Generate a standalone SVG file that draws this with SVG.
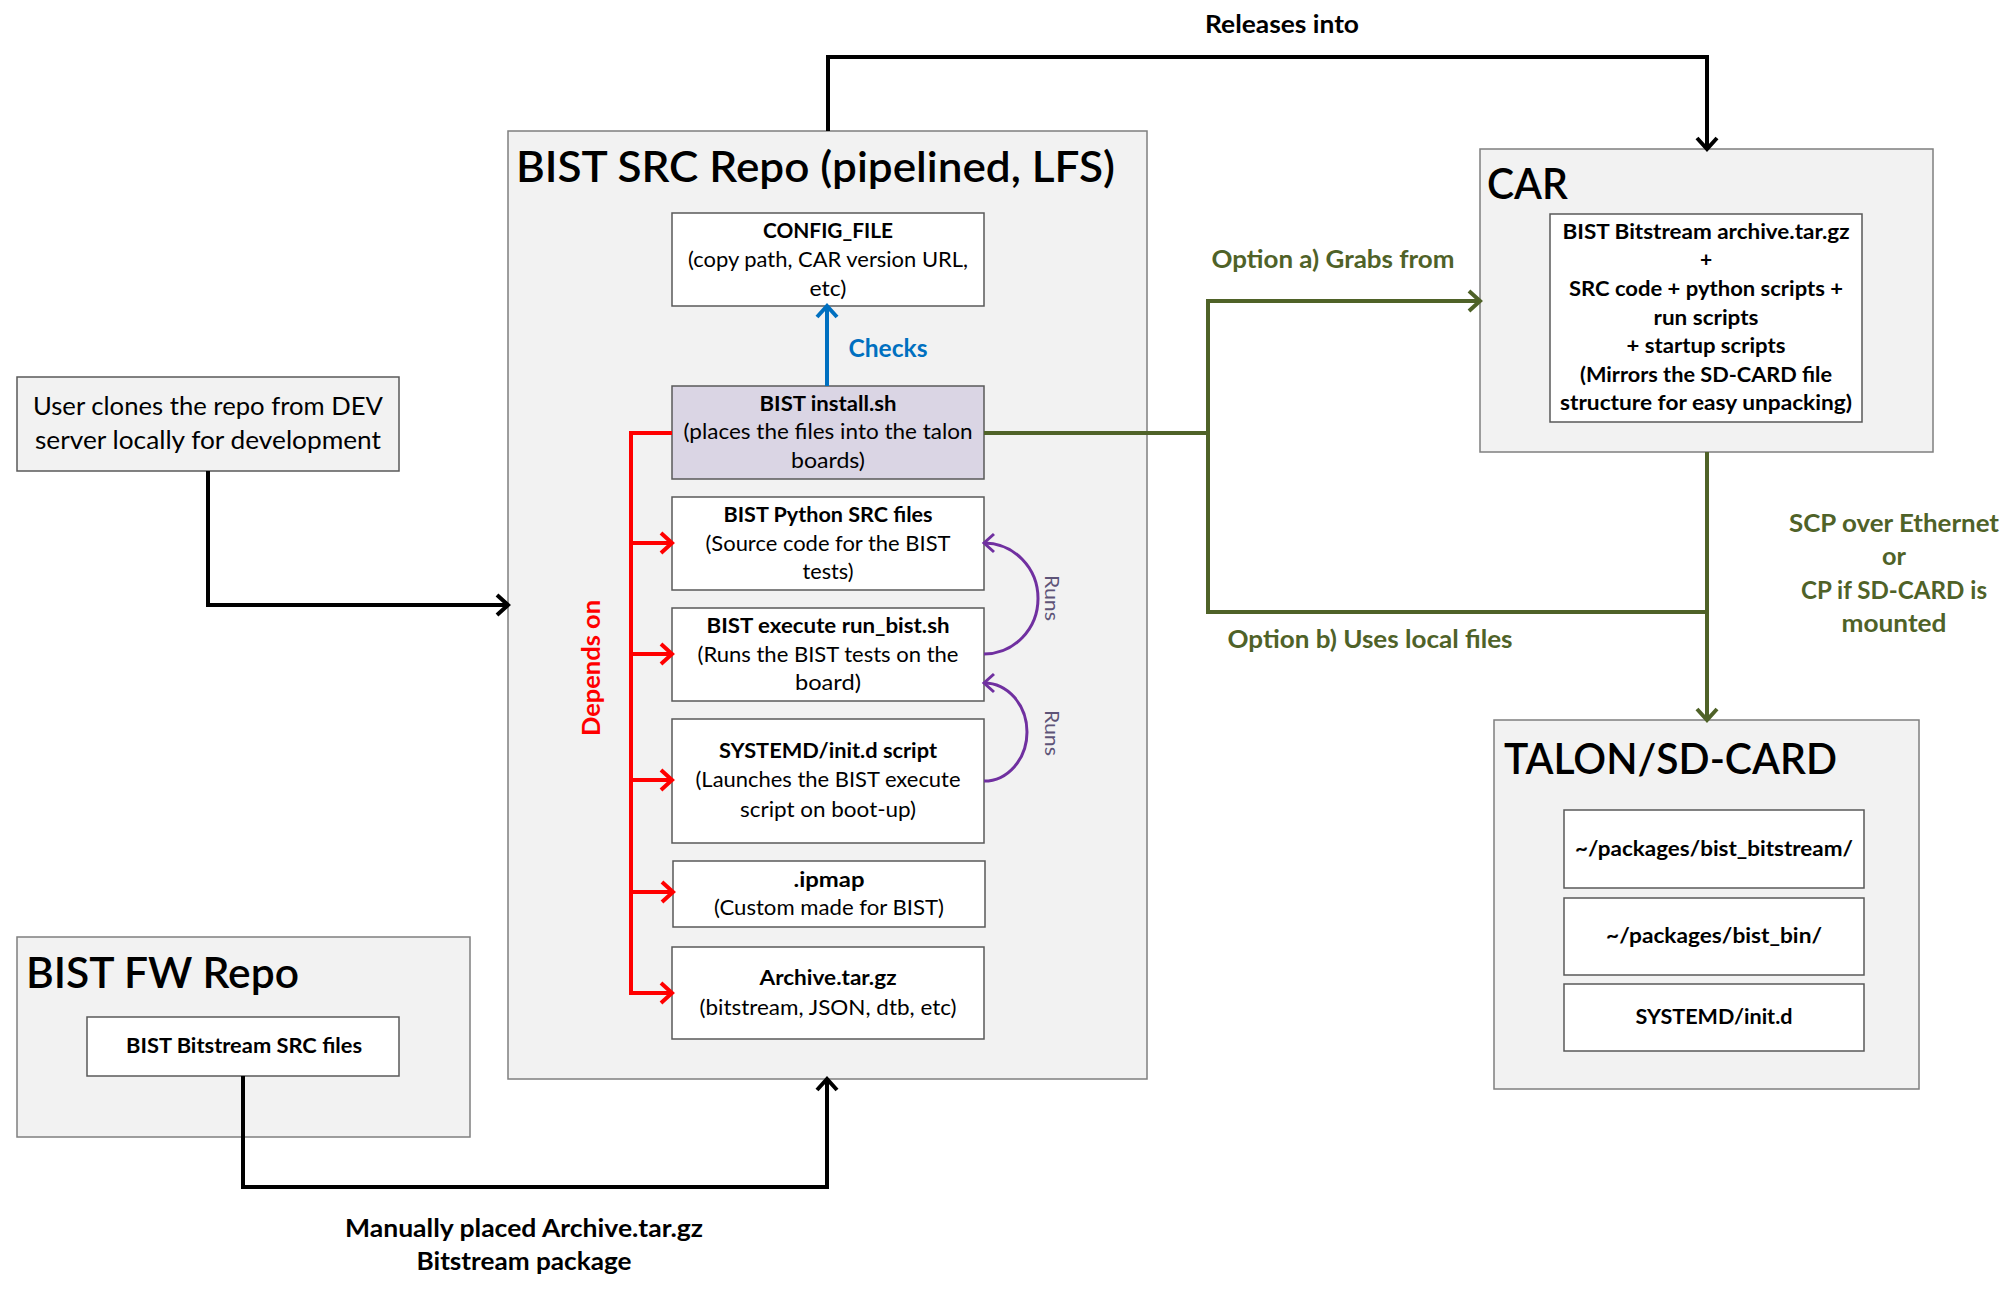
<svg xmlns="http://www.w3.org/2000/svg" width="2014" height="1293" viewBox="0 0 2014 1293">
<style>
text { font-family: Lato, "Liberation Sans", sans-serif; }
.outer { fill:#f2f2f2; stroke:#7f7f7f; stroke-width:1.5 }
.box { fill:#ffffff; stroke:#595959; stroke-width:1.5 }
.inst { fill:#dad5e4; stroke:#595959; stroke-width:1.5 }
.gbox { fill:#f2f2f2; stroke:#595959; stroke-width:1.5 }
.t { font-size:21px; fill:#000; text-anchor:middle }
.b { font-size:21px; font-weight:700; fill:#000; text-anchor:middle }
.u { font-size:25px; fill:#000; text-anchor:middle }
.title { font-size:43px; font-weight:600; fill:#000 }
.lbl { font-size:24px; font-weight:700; fill:#000; text-anchor:middle }
.grn { fill:#4f6228 }
.k { stroke:#000; stroke-width:4; fill:none }
.r { stroke:#ff0000; stroke-width:4; fill:none }
.g { stroke:#4f6228; stroke-width:4; fill:none }
.bl { stroke:#0070c0; stroke-width:4; fill:none }
.p { stroke:#7030a0; stroke-width:3; fill:none }
</style>
<defs>
<marker id="ak" markerUnits="userSpaceOnUse" viewBox="-14 -12 16 24" markerWidth="16" markerHeight="24" refX="0" refY="0" orient="auto" overflow="visible"><path d="M-11,-10 L0,0 L-11,10" fill="none" stroke="#000" stroke-width="4"/></marker>
<marker id="ar" markerUnits="userSpaceOnUse" viewBox="-14 -12 16 24" markerWidth="16" markerHeight="24" refX="0" refY="0" orient="auto" overflow="visible"><path d="M-11,-10 L0,0 L-11,10" fill="none" stroke="#ff0000" stroke-width="4"/></marker>
<marker id="ag" markerUnits="userSpaceOnUse" viewBox="-14 -12 16 24" markerWidth="16" markerHeight="24" refX="0" refY="0" orient="auto" overflow="visible"><path d="M-11,-10 L0,0 L-11,10" fill="none" stroke="#4f6228" stroke-width="4"/></marker>
<marker id="ab" markerUnits="userSpaceOnUse" viewBox="-14 -12 16 24" markerWidth="16" markerHeight="24" refX="0" refY="0" orient="auto" overflow="visible"><path d="M-11,-10 L0,0 L-11,10" fill="none" stroke="#0070c0" stroke-width="4"/></marker>
<marker id="ap" markerUnits="userSpaceOnUse" viewBox="-14 -12 16 24" markerWidth="16" markerHeight="24" refX="0" refY="0" orient="auto" overflow="visible"><path d="M-10,-9 L0,0 L-10,9" fill="none" stroke="#7030a0" stroke-width="3"/></marker>
</defs>
<rect x="0" y="0" width="2014" height="1293" fill="#ffffff"/>

<g id="user-clone">
<rect class="gbox" x="17" y="377" width="382" height="94"/>
<text class="u" x="208" y="415" textLength="350" lengthAdjust="spacingAndGlyphs">User clones the repo from DEV</text>
<text class="u" x="208" y="449" textLength="346" lengthAdjust="spacingAndGlyphs">server locally for development</text>
</g>

<g id="bist-fw-repo">
<rect class="outer" x="17" y="937" width="453" height="200"/>
<text class="title" x="26" y="988" textLength="273" lengthAdjust="spacingAndGlyphs">BIST FW Repo</text>
<g id="bitstream-src">
<rect class="box" x="87" y="1017" width="312" height="59"/>
<text class="b" x="244" y="1053" textLength="236" lengthAdjust="spacingAndGlyphs">BIST Bitstream SRC files</text>
</g>
</g>

<g id="bist-src-repo">
<rect class="outer" x="508" y="131" width="639" height="948"/>
<text class="title" x="516" y="182" textLength="599" lengthAdjust="spacingAndGlyphs">BIST SRC Repo (pipelined, LFS)</text>
</g>

<g id="config-file">
<rect class="box" x="672" y="213" width="312" height="93"/>
<text class="b" x="828" y="238" textLength="130" lengthAdjust="spacingAndGlyphs">CONFIG_FILE</text>
<text class="t" x="828" y="267" textLength="280" lengthAdjust="spacingAndGlyphs">(copy path, CAR version URL,</text>
<text class="t" x="828" y="296" textLength="37" lengthAdjust="spacingAndGlyphs">etc)</text>
</g>

<g id="install-sh">
<rect class="inst" x="672" y="386" width="312" height="93"/>
<text class="b" x="828" y="411" textLength="137" lengthAdjust="spacingAndGlyphs">BIST install.sh</text>
<text class="t" x="828" y="439" textLength="289" lengthAdjust="spacingAndGlyphs">(places the files into the talon</text>
<text class="t" x="828" y="468" textLength="74" lengthAdjust="spacingAndGlyphs">boards)</text>
</g>

<g id="python-src">
<rect class="box" x="672" y="497" width="312" height="93"/>
<text class="b" x="828" y="522" textLength="209" lengthAdjust="spacingAndGlyphs">BIST Python SRC files</text>
<text class="t" x="828" y="551" textLength="245" lengthAdjust="spacingAndGlyphs">(Source code for the BIST</text>
<text class="t" x="828" y="579" textLength="51" lengthAdjust="spacingAndGlyphs">tests)</text>
</g>

<g id="run-bist">
<rect class="box" x="672" y="608" width="312" height="93"/>
<text class="b" x="828" y="633" textLength="243" lengthAdjust="spacingAndGlyphs">BIST execute run_bist.sh</text>
<text class="t" x="828" y="662" textLength="261" lengthAdjust="spacingAndGlyphs">(Runs the BIST tests on the</text>
<text class="t" x="828" y="690" textLength="66" lengthAdjust="spacingAndGlyphs">board)</text>
</g>

<g id="systemd-script">
<rect class="box" x="672" y="719" width="312" height="124"/>
<text class="b" x="828" y="758" textLength="218" lengthAdjust="spacingAndGlyphs">SYSTEMD/init.d script</text>
<text class="t" x="828" y="787" textLength="265" lengthAdjust="spacingAndGlyphs">(Launches the BIST execute</text>
<text class="t" x="828" y="817" textLength="176" lengthAdjust="spacingAndGlyphs">script on boot-up)</text>
</g>

<g id="ipmap">
<rect class="box" x="673" y="861" width="312" height="66"/>
<text class="b" x="829" y="887" textLength="71" lengthAdjust="spacingAndGlyphs">.ipmap</text>
<text class="t" x="829" y="915" textLength="230" lengthAdjust="spacingAndGlyphs">(Custom made for BIST)</text>
</g>

<g id="archive">
<rect class="box" x="672" y="947" width="312" height="92"/>
<text class="b" x="828" y="985" textLength="137" lengthAdjust="spacingAndGlyphs">Archive.tar.gz</text>
<text class="t" x="828" y="1015" textLength="257" lengthAdjust="spacingAndGlyphs">(bitstream, JSON, dtb, etc)</text>
</g>

<g id="car">
<rect class="outer" x="1480" y="149" width="453" height="303"/>
<text class="title" x="1487" y="199" textLength="81" lengthAdjust="spacingAndGlyphs">CAR</text>
<g id="car-contents">
<rect class="box" x="1550" y="214" width="312" height="208"/>
<text class="b" x="1706" y="239" textLength="287" lengthAdjust="spacingAndGlyphs">BIST Bitstream archive.tar.gz</text>
<text class="b" x="1706" y="267">+</text>
<text class="b" x="1706" y="296" textLength="274" lengthAdjust="spacingAndGlyphs">SRC code + python scripts +</text>
<text class="b" x="1706" y="325" textLength="105" lengthAdjust="spacingAndGlyphs">run scripts</text>
<text class="b" x="1706" y="353" textLength="159" lengthAdjust="spacingAndGlyphs">+ startup scripts</text>
<text class="b" x="1706" y="382" textLength="252" lengthAdjust="spacingAndGlyphs">(Mirrors the SD-CARD file</text>
<text class="b" x="1706" y="410" textLength="292" lengthAdjust="spacingAndGlyphs">structure for easy unpacking)</text>
</g>
</g>

<g id="talon-sdcard">
<rect class="outer" x="1494" y="720" width="425" height="369"/>
<text class="title" x="1504" y="774" textLength="333" lengthAdjust="spacingAndGlyphs">TALON/SD-CARD</text>
<g id="pkg-bitstream">
<rect class="box" x="1564" y="810" width="300" height="78"/>
<text class="b" x="1714" y="856" textLength="278" lengthAdjust="spacingAndGlyphs">~/packages/bist_bitstream/</text>
</g>
<g id="pkg-bin">
<rect class="box" x="1564" y="898" width="300" height="77"/>
<text class="b" x="1714" y="943" textLength="216" lengthAdjust="spacingAndGlyphs">~/packages/bist_bin/</text>
</g>
<g id="systemd-dir">
<rect class="box" x="1564" y="984" width="300" height="67"/>
<text class="b" x="1714" y="1024" textLength="157" lengthAdjust="spacingAndGlyphs">SYSTEMD/init.d</text>
</g>
</g>

<g id="connectors">
<path class="k" d="M828,131 V57 H1707 V149" marker-end="url(#ak)"/>
<path class="k" d="M208,471 V605 H508" marker-end="url(#ak)"/>
<path class="k" d="M243,1076 V1187 H827 V1079" marker-end="url(#ak)"/>
<path class="bl" d="M827,386 V306" marker-end="url(#ab)"/>
<path class="r" d="M672,433 H631 V993 H672" marker-end="url(#ar)"/>
<path class="r" d="M631,543 H672" marker-end="url(#ar)"/>
<path class="r" d="M631,654 H672" marker-end="url(#ar)"/>
<path class="r" d="M631,780 H672" marker-end="url(#ar)"/>
<path class="r" d="M631,892 H673" marker-end="url(#ar)"/>
<path class="g" d="M984,433 H1208 V301 H1480" marker-end="url(#ag)"/>
<path class="g" d="M1208,433 V612 H1707"/>
<path class="g" d="M1707,452 V720" marker-end="url(#ag)"/>
<path class="p" d="M984,654 A54,55.5 0 0 0 984,543" marker-end="url(#ap)"/>
<path class="p" d="M984,781 A43,49 0 0 0 984,683" marker-end="url(#ap)"/>
<text class="lbl" x="1282" y="33" textLength="154" lengthAdjust="spacingAndGlyphs">Releases into</text>
<text class="lbl" x="888" y="357" style="fill:#0070c0" textLength="79" lengthAdjust="spacingAndGlyphs">Checks</text>
<text class="lbl grn" x="1333" y="268" textLength="243" lengthAdjust="spacingAndGlyphs">Option a) Grabs from</text>
<text class="lbl grn" x="1370" y="648" textLength="285" lengthAdjust="spacingAndGlyphs">Option b) Uses local files</text>
<text class="lbl grn" x="1894" y="532" textLength="210" lengthAdjust="spacingAndGlyphs">SCP over Ethernet</text>
<text class="lbl grn" x="1894" y="565" textLength="24" lengthAdjust="spacingAndGlyphs">or</text>
<text class="lbl grn" x="1894" y="599" textLength="186" lengthAdjust="spacingAndGlyphs">CP if SD-CARD is</text>
<text class="lbl grn" x="1894" y="632" textLength="105" lengthAdjust="spacingAndGlyphs">mounted</text>
<text class="lbl" x="524" y="1237" textLength="358" lengthAdjust="spacingAndGlyphs">Manually placed Archive.tar.gz</text>
<text class="lbl" x="524" y="1270" textLength="215" lengthAdjust="spacingAndGlyphs">Bitstream package</text>
<text class="lbl" transform="translate(600,668) rotate(-90)" style="fill:#ff0000;font-size:25px" textLength="136" lengthAdjust="spacingAndGlyphs">Depends on</text>
<text transform="translate(1045,598) rotate(90)" style="font-size:20px;fill:#5e5478;text-anchor:middle" textLength="46" lengthAdjust="spacingAndGlyphs">Runs</text>
<text transform="translate(1045,733) rotate(90)" style="font-size:20px;fill:#5e5478;text-anchor:middle" textLength="46" lengthAdjust="spacingAndGlyphs">Runs</text>
</g>
</svg>
